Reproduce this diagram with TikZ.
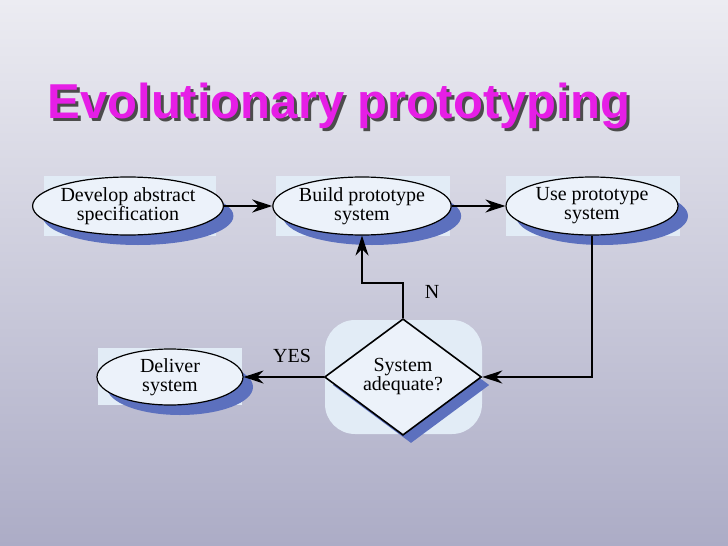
\documentclass[tikz,border=0pt]{standalone}
\usepackage{fontspec}
\setmainfont{Liberation Serif}
\newfontfamily\titlefont{Liberation Sans}
\usetikzlibrary{arrows.meta,shapes.geometric,shadows}
\definecolor{bgtop}{RGB}{236,236,242}
\definecolor{bgbot}{RGB}{172,172,198}
\definecolor{shad}{RGB}{92,112,190}
\definecolor{nfill}{RGB}{236,242,250}
\definecolor{boxfill}{RGB}{226,236,246}
\definecolor{mag}{RGB}{230,30,230}
\tikzset{
  proc/.style={ellipse,draw=black,line width=1.2pt,fill=nfill,minimum width=172pt,minimum height=58pt,inner sep=0pt,align=center,font=\fontsize{20}{19}\selectfont,
    drop shadow={shadow xshift=10pt,shadow yshift=-10pt,fill=shad,opacity=1}},
  dec/.style={diamond,draw=black,line width=1.6pt,fill=nfill,minimum width=157pt,minimum height=112pt,inner sep=0pt,align=center,font=\fontsize{20}{19}\selectfont,
    drop shadow={shadow xshift=8pt,shadow yshift=-8pt,fill=shad,opacity=1}},
  conn/.style={line width=1.8pt,-{Stealth[length=20pt,width=13pt]}},
  lbl/.style={font=\fontsize{20}{20}\selectfont},
  back/.style={fill=boxfill,draw=none}
}
\begin{document}
\begin{tikzpicture}[x=1pt,y=-1pt]
\shade[top color=bgtop,bottom color=bgbot] (0,0) rectangle (728,546);
\useasboundingbox (0,0) rectangle (728,546);
% title
\node[anchor=base west,text=black!70,font=\titlefont\bfseries\fontsize{49}{49}\selectfont] (tshadow) at (47,121) {Evolutionary prototyping};
\node[anchor=base west,text=mag,font=\titlefont\bfseries\fontsize{49}{49}\selectfont] (title) at (44,118) {Evolutionary prototyping};
% light boxes
\fill[back] (44,176) rectangle (216,236);
\fill[back] (276,176) rectangle (450,236);
\fill[back] (506,176) rectangle (680,236);
\fill[back] (98,348) rectangle (242,405);
\fill[back,rounded corners=30pt] (325,320) rectangle (482,434);
% nodes
\node[proc] (dev) at (128,206) {Develop abstract\\specification};
\node[proc] (build) at (362,206) {Build prototype\\system};
\node[proc] (use) at (592,206) {Use prototype\\system};
\node[proc,minimum width=146pt,minimum height=56pt] (del) at (170,377) {Deliver\\system};
\node[dec] (ok) at (403,377) {System\\adequate?};
% connectors
\draw[conn] (dev) -- (build);
\draw[conn] (build) -- (use);
\draw[conn] (use.south) |- (ok.east);
\draw[conn] (ok.north) -- ++(0,-35) -| (build.south);
\draw[conn] (ok.west) -- (del.east);
\node[lbl] (n) at (432,292) {N};
\node[lbl] (yes) at (292,356) {YES};
\end{tikzpicture}
\end{document}
